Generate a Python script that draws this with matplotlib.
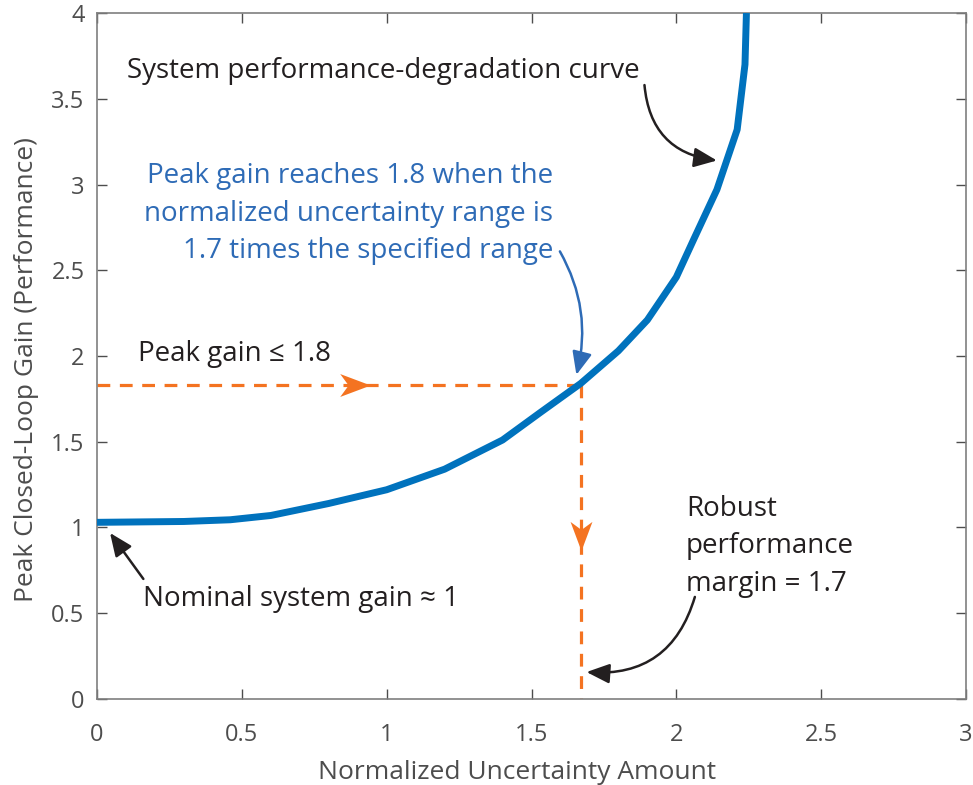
import matplotlib
matplotlib.use("Agg")
import matplotlib.pyplot as plt
from matplotlib.path import Path

plt.rcParams['font.family'] = ['Open Sans', 'DejaVu Sans']

# curve: peak closed-loop gain vs normalized uncertainty amount
unc = [0, 0.30, 0.46, 0.60, 0.80, 1.00, 1.20, 1.40, 1.53, 1.67, 1.80, 1.90, 2.00,
       2.06, 2.14, 2.21, 2.237, 2.242]
gain = [1.03, 1.035, 1.045, 1.07, 1.14, 1.22, 1.34, 1.51, 1.67, 1.84, 2.03, 2.21, 2.46,
        2.68, 2.97, 3.32, 3.70, 4.0]

margen = 1.67      # robust performance margin
gain_max = 1.83    # peak gain limit

xticks = [0, 0.5, 1, 1.5, 2, 2.5, 3]
yticks = [0, 0.5, 1, 1.5, 2, 2.5, 3, 3.5, 4]

azul = '#0072BD'
azul_txt = '#2E6BB6'
naranja = '#F47321'
negro = '#231F20'
gris = '#4D4D4D'

# notched arrowhead used as marker (pointing right / down)
punta_der = Path([(1, 0), (-1, 0.75), (-0.45, 0), (-1, -0.75), (1, 0)],
                 [Path.MOVETO, Path.LINETO, Path.LINETO, Path.LINETO, Path.CLOSEPOLY])
punta_abajo = Path([(0, -1), (0.75, 1), (0, 0.45), (-0.75, 1), (0, -1)],
                   [Path.MOVETO, Path.LINETO, Path.LINETO, Path.LINETO, Path.CLOSEPOLY])

fig = plt.figure(figsize=(9.73, 7.85), dpi=100)
ax = fig.add_axes([0.0997, 0.1096, 0.8931, 0.8738])

# dashed guide lines
ax.plot([0, margen], [gain_max, gain_max], color=naranja, lw=2.3, ls=(0, (4, 3)), zorder=2)
ax.plot([margen, margen], [gain_max, 0], color=naranja, lw=2.3, ls=(0, (4, 3)), zorder=2)
ax.plot([0.89], [gain_max], marker=punta_der, ms=22, color=naranja, mew=0, zorder=2)
ax.plot([margen], [0.95], marker=punta_abajo, ms=21, color=naranja, mew=0, zorder=2)

# main curve
ax.plot(unc, gain, color=azul, lw=5, solid_capstyle='butt', solid_joinstyle='round',
        zorder=3)

ax.set_xlim(0, 3)
ax.set_ylim(0, 4)
ax.set_xticks(xticks)
ax.set_yticks(yticks)
ax.set_xticklabels([f'{t:g}' for t in xticks])
ax.set_yticklabels([f'{t:g}' for t in yticks])
ax.tick_params(direction='in', length=7, width=1, color=gris, labelcolor=gris,
               labelsize=17, top=True, right=True, pad=9)
ax.tick_params(axis='x', pad=17)
for s in ax.spines.values():
    s.set_color('#7f7f7f')
    s.set_linewidth(1.2)

ax.set_xlabel('Normalized Uncertainty Amount', fontsize=19, color=gris, labelpad=10)
ax.set_ylabel('Peak Closed-Loop Gain (Performance)', fontsize=19, color=gris, labelpad=9)
ax.xaxis.label.set_x(0.483)
ax.yaxis.label.set_y(0.48)

fs = 20
flecha = dict(arrowstyle='-|>,head_length=0.7,head_width=0.3', color=negro, lw=1.8,
              shrinkA=0, shrinkB=0, mutation_scale=20)

ax.text(0.99, 3.62, 'System performance-degradation curve', fontsize=fs, color=negro,
        ha='center', va='baseline')
ax.annotate('', xy=(2.14, 3.14), xytext=(1.89, 3.58),
            arrowprops=dict(flecha, connectionstyle='arc3,rad=0.4'))

ax.text(1.574, 2.57, 'Peak gain reaches 1.8 when the\nnormalized uncertainty range is\n'
        '1.7 times the specified range', fontsize=fs, color=azul_txt,
        ha='right', va='baseline', multialignment='right', linespacing=1.45)
ax.annotate('', xy=(1.655, 1.89), xytext=(1.598, 2.61),
            arrowprops=dict(flecha, color=azul_txt, connectionstyle='arc3,rad=-0.2'))

ax.text(0.14, 1.97, 'Peak gain \u2264 1.8', fontsize=fs, color=negro, ha='left',
        va='baseline')

ax.text(0.16, 0.54, 'Nominal system gain \u2248 1', fontsize=fs, color=negro, ha='left',
        va='baseline')
ax.annotate('', xy=(0.045, 0.968), xytext=(0.16, 0.70), arrowprops=flecha)

ax.text(2.033, 0.63, 'Robust\nperformance\nmargin = 1.7', fontsize=fs, color=negro,
        ha='left', va='baseline', multialignment='left', linespacing=1.45)
ax.annotate('', xy=(1.69, 0.157), xytext=(2.064, 0.595),
            arrowprops=dict(flecha, connectionstyle='arc3,rad=-0.4'))

fig.savefig('out.png', dpi=100)
